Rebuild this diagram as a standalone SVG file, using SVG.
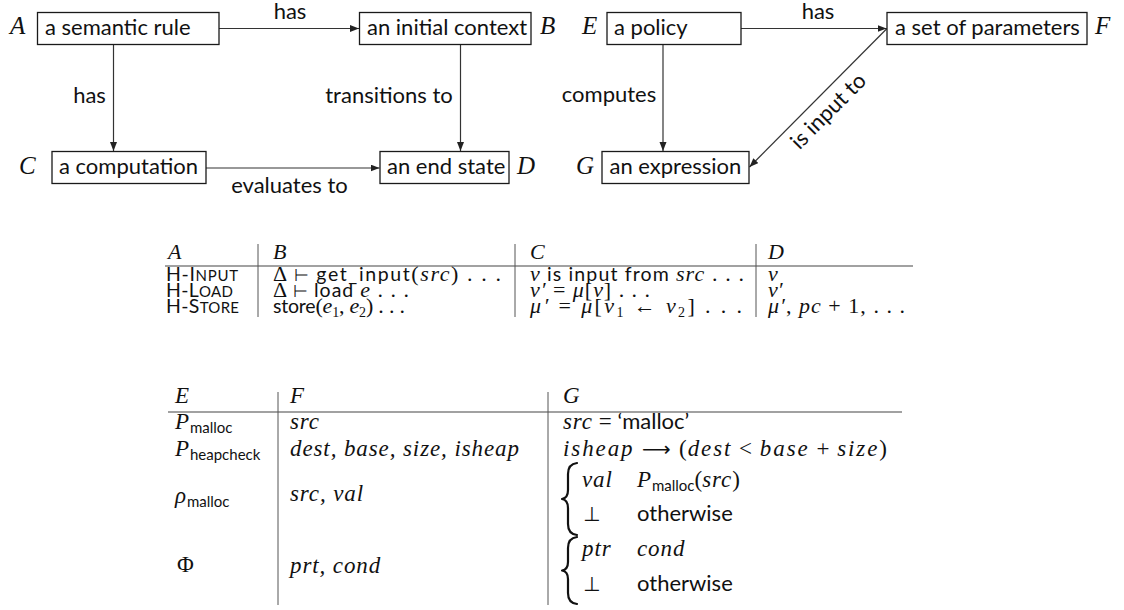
<svg xmlns="http://www.w3.org/2000/svg" width="1124" height="610" viewBox="0 0 1124 610">
  <style>
    .box{fill:#fff;stroke:#1a1a1a;stroke-width:1.3}
    .lbl{font-family:Lato,"Open Sans",sans-serif;font-size:22px;fill:#111}
    .var{font-family:"Liberation Serif","DejaVu Serif",serif;font-style:italic;font-size:25px;fill:#111}
    .edge{stroke:#333;stroke-width:1.2;fill:none;marker-end:url(#arr)}
    .rule{stroke:#444;stroke-width:1.2}
    .vline{stroke:#555;stroke-width:1}
    text{fill:#111}
    .s1{font-family:Lato,"Open Sans",sans-serif;font-size:19.5px}
    .m1{font-family:"Liberation Serif","DejaVu Serif",serif;font-style:italic;font-size:22px}
    .h1{font-family:"Liberation Serif","DejaVu Serif",serif;font-style:italic;font-size:22px}
    .r1{font-family:"Liberation Serif","DejaVu Serif",serif;font-size:22px}
    .y1{font-family:"DejaVu Sans",sans-serif;font-size:17px}
    .b1{font-family:"Liberation Serif","DejaVu Serif",serif;font-size:14px}
    .s2{font-family:Lato,"Open Sans",sans-serif;font-size:22px}
    .m2{font-family:"Liberation Serif","DejaVu Serif",serif;font-style:italic;font-size:23px;letter-spacing:0.9px}
    .r2{font-family:"Liberation Serif","DejaVu Serif",serif;font-size:23px}
    .y2{font-family:"DejaVu Sans",sans-serif;font-size:20px}
    .sub2{font-family:Lato,"Open Sans",sans-serif;font-size:15px}
    .brace{fill:none;stroke:#111;stroke-width:2.2;stroke-linecap:round;stroke-linejoin:round}
  </style>
  <defs>
    <marker id="arr" markerUnits="userSpaceOnUse" markerWidth="10" markerHeight="8" refX="9" refY="3.5" orient="auto">
      <path d="M0,0 L9,3.5 L0,7 z" fill="#222"/>
    </marker>
  </defs>

  <!-- connectors -->
  <g id="connectors">
    <line class="edge" x1="219" y1="28.5" x2="359" y2="28.5"/>
    <line class="edge" x1="113.5" y1="44.5" x2="113.5" y2="151"/>
    <line class="edge" x1="460.5" y1="44.5" x2="460.5" y2="151"/>
    <line class="edge" x1="206" y1="168" x2="379.5" y2="168"/>
    <line class="edge" x1="741" y1="28.5" x2="886.5" y2="28.5"/>
    <line class="edge" x1="663" y1="44.5" x2="663" y2="151"/>
    <line class="edge" x1="887" y1="28.5" x2="749.5" y2="167"/>
    <text class="lbl" x="290" y="19" text-anchor="middle">has</text>
    <text class="lbl" x="89.5" y="103" text-anchor="middle">has</text>
    <text class="lbl" x="389" y="103" text-anchor="middle">transitions to</text>
    <text class="lbl" x="289.5" y="193" text-anchor="middle">evaluates to</text>
    <text class="lbl" x="818" y="19" text-anchor="middle">has</text>
    <text class="lbl" x="609" y="102" text-anchor="middle">computes</text>
    <text class="lbl" x="833.5" y="116.3" text-anchor="middle" transform="rotate(-45 833.5 116.3)">is input to</text>
  </g>

  <!-- nodes -->
  <g id="node-A">
    <rect class="box" x="37.5" y="12.5" width="181.5" height="32"/>
    <text class="lbl" x="45" y="35">a semantic rule</text>
    <text class="var" x="10" y="34">A</text>
  </g>
  <g id="node-B">
    <rect class="box" x="359.5" y="12.5" width="171.5" height="32"/>
    <text class="lbl" x="367" y="35">an initial context</text>
    <text class="var" x="540" y="34">B</text>
  </g>
  <g id="node-C">
    <rect class="box" x="52" y="151.5" width="154" height="32"/>
    <text class="lbl" x="59" y="174">a computation</text>
    <text class="var" x="19" y="174">C</text>
  </g>
  <g id="node-D">
    <rect class="box" x="380" y="151.5" width="129" height="32"/>
    <text class="lbl" x="387" y="174">an end state</text>
    <text class="var" x="517" y="174">D</text>
  </g>
  <g id="node-E">
    <rect class="box" x="607" y="12.5" width="134" height="32"/>
    <text class="lbl" x="614" y="35">a policy</text>
    <text class="var" x="582" y="34">E</text>
  </g>
  <g id="node-F">
    <rect class="box" x="887" y="12.5" width="200" height="32"/>
    <text class="lbl" x="895" y="35">a set of parameters</text>
    <text class="var" x="1095" y="34">F</text>
  </g>
  <g id="node-G">
    <rect class="box" x="602" y="151.5" width="147" height="32"/>
    <text class="lbl" x="609.5" y="174">an expression</text>
    <text class="var" x="576" y="174">G</text>
  </g>

  <!-- table of semantic rules -->
  <g id="table-rules">
    <line class="rule" x1="165" y1="266" x2="913" y2="266"/>
    <line class="vline" x1="258" y1="244" x2="258" y2="317"/>
    <line class="vline" x1="515" y1="244" x2="515" y2="317"/>
    <line class="vline" x1="756" y1="244" x2="756" y2="317"/>
    <text class="h1" x="168" y="259">A</text>
    <text class="h1" x="273" y="259">B</text>
    <text class="h1" x="530" y="259">C</text>
    <text class="h1" x="768" y="259">D</text>

    <text class="s1" x="166" y="281" textLength="72" lengthAdjust="spacing">H-I<tspan font-size="15">NPUT</tspan></text>
    <text x="273" y="281" textLength="228" lengthAdjust="spacing"><tspan class="r1">Δ</tspan> <tspan class="y1">⊢</tspan> <tspan class="s1">get_input</tspan><tspan class="r1">(</tspan><tspan class="m1">src</tspan><tspan class="r1">) . . .</tspan></text>
    <text x="530" y="281" textLength="214" lengthAdjust="spacing"><tspan class="m1">v</tspan><tspan class="s1"> is input from </tspan><tspan class="m1">src</tspan><tspan class="r1"> . . .</tspan></text>
    <text class="m1" x="768" y="281">v</text>

    <text class="s1" x="166" y="297" textLength="67" lengthAdjust="spacing">H-L<tspan font-size="15">OAD</tspan></text>
    <text x="273" y="297" textLength="136" lengthAdjust="spacing"><tspan class="r1">Δ</tspan> <tspan class="y1">⊢</tspan> <tspan class="s1">load </tspan><tspan class="m1">e</tspan><tspan class="r1"> . . .</tspan></text>
    <text x="530" y="297" textLength="120" lengthAdjust="spacing"><tspan class="m1">v′</tspan><tspan class="r1"> = </tspan><tspan class="m1">μ</tspan><tspan class="r1">[</tspan><tspan class="m1">v</tspan><tspan class="r1">] . . .</tspan></text>
    <text class="m1" x="768" y="297">v′</text>

    <text class="s1" x="166" y="313" textLength="73" lengthAdjust="spacing">H-S<tspan font-size="15">TORE</tspan></text>
    <text x="273" y="313" textLength="132" lengthAdjust="spacing"><tspan class="s1">store</tspan><tspan class="r1">(</tspan><tspan class="m1">e</tspan><tspan class="b1" dy="4">1</tspan><tspan class="r1" dy="-4">, </tspan><tspan class="m1">e</tspan><tspan class="b1" dy="4">2</tspan><tspan class="r1" dy="-4">) . . .</tspan></text>
    <text x="530" y="313" textLength="212" lengthAdjust="spacing"><tspan class="m1">μ′</tspan><tspan class="r1"> = </tspan><tspan class="m1">μ</tspan><tspan class="r1">[</tspan><tspan class="m1">v</tspan><tspan class="b1" dy="4">1</tspan><tspan class="r1" dy="-4"> ← </tspan><tspan class="m1">v</tspan><tspan class="b1" dy="4">2</tspan><tspan class="r1" dy="-4">] . . .</tspan></text>
    <text x="768" y="313" textLength="137" lengthAdjust="spacing"><tspan class="m1">μ′</tspan><tspan class="r1">, </tspan><tspan class="m1">pc</tspan><tspan class="r1"> + 1, . . .</tspan></text>
  </g>

  <!-- table of policies -->
  <g id="table-policies">
    <line class="rule" x1="168" y1="412" x2="902" y2="412"/>
    <line class="vline" x1="278" y1="392" x2="278" y2="605"/>
    <line class="vline" x1="548" y1="392" x2="548" y2="605"/>
    <text class="m2" x="175" y="403">E</text>
    <text class="m2" x="290" y="403">F</text>
    <text class="m2" x="563" y="403">G</text>

    <text x="175" y="429"><tspan class="m2">P</tspan><tspan class="sub2" dy="4">malloc</tspan></text>
    <text class="m2" x="290" y="429">src</text>
    <text x="563" y="429"><tspan class="m2">src</tspan><tspan class="r2"> = </tspan><tspan class="s2">‘malloc’</tspan></text>

    <text x="175" y="456"><tspan class="m2">P</tspan><tspan class="sub2" dy="4">heapcheck</tspan></text>
    <text class="m2" x="290" y="456">dest, base, size, isheap</text>
    <text x="563" y="456" textLength="324" lengthAdjust="spacing"><tspan class="m2">isheap</tspan><tspan class="y2"> ⟶ </tspan><tspan class="r2">(</tspan><tspan class="m2">dest</tspan><tspan class="r2"> &lt; </tspan><tspan class="m2">base</tspan><tspan class="r2"> + </tspan><tspan class="m2">size</tspan><tspan class="r2">)</tspan></text>

    <text x="175" y="503"><tspan class="m2">ρ</tspan><tspan class="sub2" dy="4">malloc</tspan></text>
    <text class="m2" x="290" y="501">src, val</text>
    <path class="brace" d="M577,463 Q568,464 568,474 L568,490 Q568,498 562,499 Q568,500 568,508 L568,524 Q568,534 577,535"/>
    <text class="m2" x="582" y="487">val</text>
    <text x="637" y="487"><tspan class="m2">P</tspan><tspan class="sub2" dy="4">malloc</tspan><tspan class="r2" dy="-4">(</tspan><tspan class="m2">src</tspan><tspan class="r2">)</tspan></text>
    <text class="y2" x="583" y="521">⊥</text>
    <text class="s2" x="637" y="521">otherwise</text>

    <text class="r2" x="177" y="572">Φ</text>
    <text class="m2" x="290" y="573">prt, cond</text>
    <path class="brace" d="M577,537 Q568,538 568,548 L568,562 Q568,569.5 562,570.5 Q568,571.5 568,579 L568,593 Q568,603 577,604"/>
    <text class="m2" x="582" y="556">ptr</text>
    <text class="m2" x="637" y="556">cond</text>
    <text class="y2" x="583" y="591">⊥</text>
    <text class="s2" x="637" y="591">otherwise</text>
  </g>
</svg>
